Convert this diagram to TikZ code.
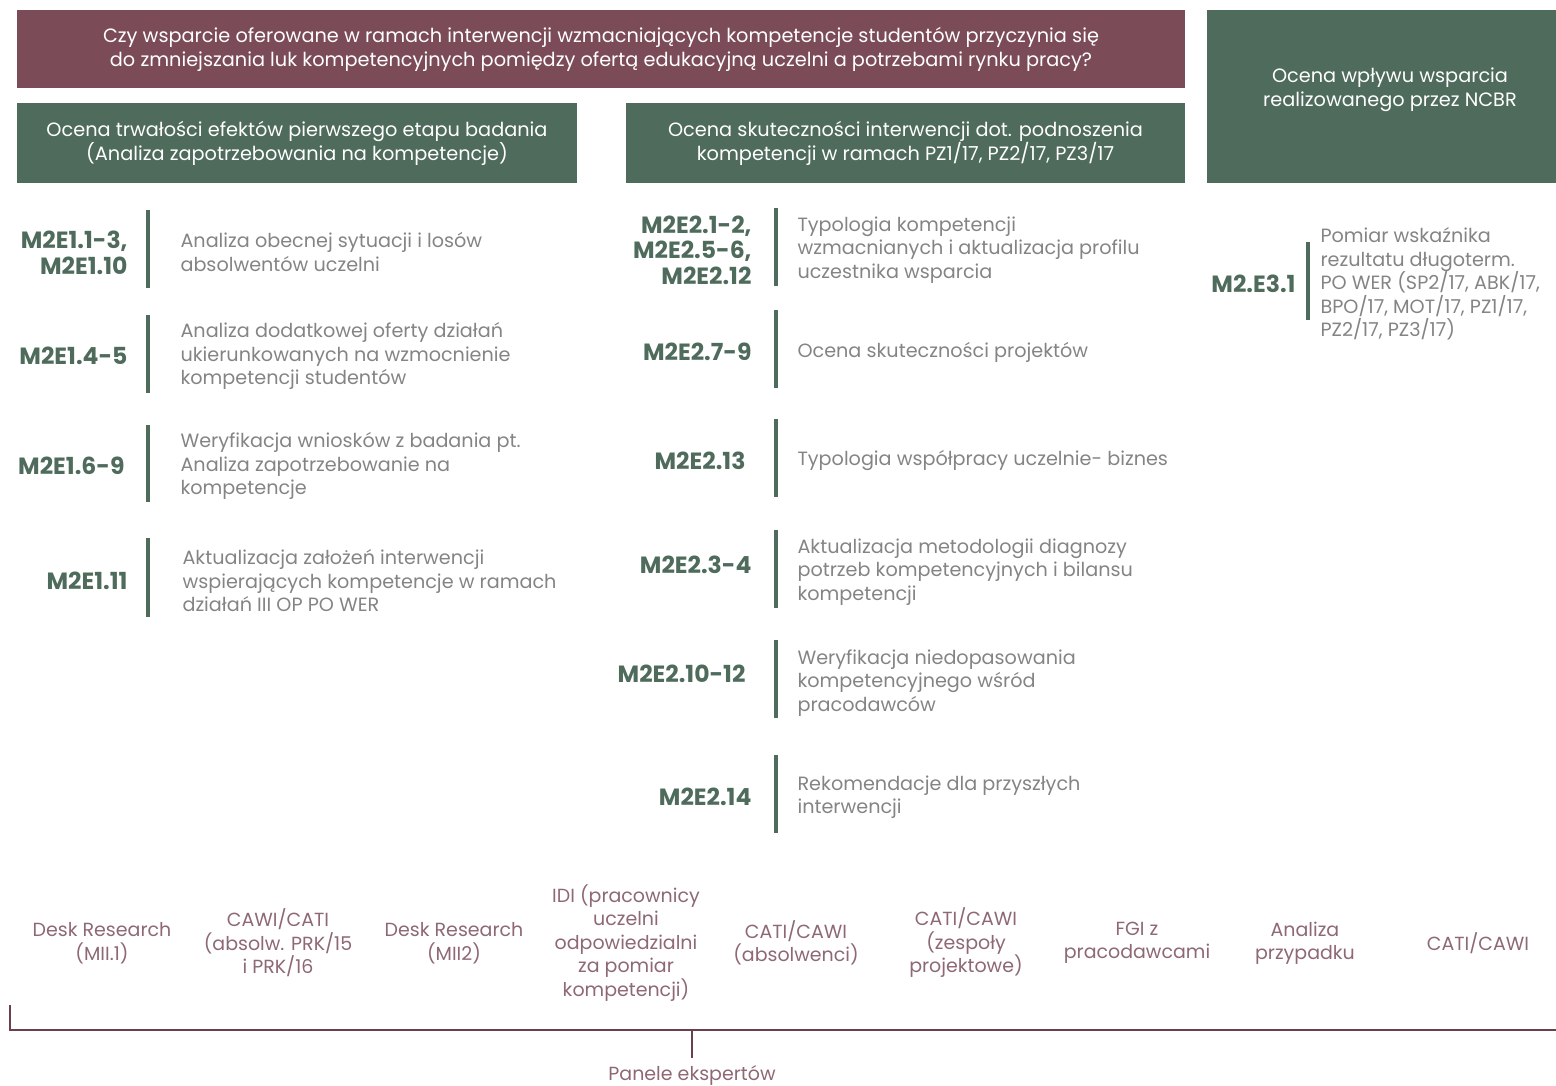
\documentclass[tikz,border=0pt]{standalone}
\usepackage{fontspec}
\usepackage{xcolor}
\usepackage{tikz}
\setmainfont{Poppins}

\definecolor{wino}{RGB}{123,76,88}
\definecolor{butelka}{RGB}{78,107,92}
\definecolor{szary}{RGB}{132,132,132}
\definecolor{rozowy}{RGB}{142,104,116}

\tikzset{
  pytanie/.style={fill=wino, text=white, align=center, font=\fontsize{19.3}{24}\selectfont},
  etap/.style={fill=butelka, text=white, align=center, font=\fontsize{19.3}{24}\selectfont},
  kod/.style={anchor=east, align=right, text=butelka, font=\fontsize{23.5}{25.5}\selectfont\bfseries},
  opis/.style={anchor=west, align=left, text=szary, font=\fontsize{19.2}{23.5}\selectfont},
  kreska/.style={draw=butelka, line width=3.5pt},
  metoda/.style={align=center, text=rozowy, font=\fontsize{19}{23.5}\selectfont},
}

\begin{document}
\begin{tikzpicture}[x=1pt, y=-1pt]
    \useasboundingbox (0,0) rectangle (1556,1086);

    % Header boxes
    \node[pytanie, minimum width=1168pt, minimum height=78pt] (pyt) at (601,49)
      {Czy wsparcie oferowane w ramach interwencji wzmacniających kompetencje studentów przyczynia się\\
       do zmniejszania luk kompetencyjnych pomiędzy ofertą edukacyjną uczelni a potrzebami rynku pracy?};
    \node[etap, minimum width=560pt, minimum height=80pt] (etap1) at (297,143)
      {Ocena trwałości efektów pierwszego etapu badania\\(Analiza zapotrzebowania na kompetencje)};
    \node[etap, minimum width=559pt, minimum height=80pt] (etap2) at (905.5,143)
      {Ocena skuteczności interwencji dot. podnoszenia\\kompetencji w ramach PZ1/17, PZ2/17, PZ3/17};
    \fill[butelka] (1207,10) rectangle (1573,183);
    \node[etap] (etap3) at (1390,90) {Ocena wpływu wsparcia\\realizowanego przez NCBR};

    % First column
    \node[kod] (k11) at (131,253) {M2E1.1-3,\\M2E1.10};
    \draw[kreska] (148,210) -- (148,288);
    \node[opis] (o11) at (177,252) {Analiza obecnej sytuacji i losów\\absolwentów uczelni};

    \node[kod] (k12) at (131,356) {M2E1.4-5};
    \draw[kreska] (148,315) -- (148,393);
    \node[opis] (o12) at (177,356) {Analiza dodatkowej oferty działań\\ukierunkowanych na wzmocnienie\\kompetencji studentów};

    \node[kod] (k13) at (128,466) {M2E1.6-9};
    \draw[kreska] (148,425) -- (148,502);
    \node[opis] (o13) at (177,466) {Weryfikacja wniosków z badania pt.\\Analiza zapotrzebowanie na\\kompetencje};

    \node[kod] (k14) at (131,581) {M2E1.11};
    \draw[kreska] (148,538) -- (148,617);
    \node[opis] (o14) at (179,581) {Aktualizacja założeń interwencji\\wspierających kompetencje w ramach\\działań III OP PO WER};

    % Second column
    \node[kod] (k21) at (755,250) {M2E2.1-2,\\M2E2.5-6,\\M2E2.12};
    \draw[kreska] (776,208) -- (776,286);
    \node[opis] (o21) at (794,250) {Typologia kompetencji\\wzmacnianych i aktualizacja profilu\\uczestnika wsparcia};

    \node[kod] (k22) at (755,352) {M2E2.7-9};
    \draw[kreska] (776,310) -- (776,388);
    \node[opis] (o22) at (794,352) {Ocena skuteczności projektów};

    \node[kod] (k23) at (749,461) {M2E2.13};
    \draw[kreska] (776,419) -- (776,497);
    \node[opis] (o23) at (794,461) {Typologia współpracy uczelnie- biznes};

    \node[kod] (k24) at (755,565) {M2E2.3-4};
    \draw[kreska] (776,530) -- (776,608);
    \node[opis] (o24) at (794,572) {Aktualizacja metodologii diagnozy\\potrzeb kompetencyjnych i bilansu\\kompetencji};

    \node[kod] (k25) at (749,674) {M2E2.10-12};
    \draw[kreska] (776,640) -- (776,718);
    \node[opis] (o25) at (794,683) {Weryfikacja niedopasowania\\kompetencyjnego wśród\\pracodawców};

    \node[kod] (k26) at (755,797) {M2E2.14};
    \draw[kreska] (776,755) -- (776,833);
    \node[opis] (o26) at (794,797) {Rekomendacje dla przyszłych\\interwencji};

    % Third column
    \node[kod] (k31) at (1299,284) {M2.E3.1};
    \draw[kreska] (1308,242) -- (1308,320);
    \node[opis] (o31) at (1317,284) {Pomiar wskaźnika\\rezultatu długoterm.\\PO WER (SP2/17, ABK/17,\\BPO/17, MOT/17, PZ1/17,\\PZ2/17, PZ3/17)};

    % Methods
    \node[metoda] (m1) at (102,943) {Desk Research\\(MII.1)};
    \node[metoda] (m2) at (278,943) {CAWI/CATI\\(absolw. PRK/15\\i PRK/16};
    \node[metoda] (m3) at (454,943) {Desk Research\\(MII2)};
    \node[metoda] (m4) at (626,943) {IDI (pracownicy\\uczelni\\odpowiedzialni\\za pomiar\\kompetencji)};
    \node[metoda] (m5) at (796,943) {CATI/CAWI\\(absolwenci)};
    \node[metoda] (m6) at (966,943) {CATI/CAWI\\(zespoły\\projektowe)};
    \node[metoda] (m7) at (1137,943) {FGI z\\pracodawcami};
    \node[metoda] (m8) at (1305,943) {Analiza\\przypadku};
    \node[metoda] (m9) at (1478,943) {CATI/CAWI};

    % Bracket and experts panel
    \node[metoda] (panel) at (692,1075) {Panele ekspertów};
    \coordinate (lewy) at (10,1005);
    \coordinate (prawy) at (1560,1030);
    \coordinate (trzon) at (692,1058);
    \draw[wino!85!black, line width=1.2pt] (lewy) |- (prawy);
    \draw[wino!85!black, line width=1.2pt] (trzon) -- (trzon |- prawy);
\end{tikzpicture}
\end{document}
